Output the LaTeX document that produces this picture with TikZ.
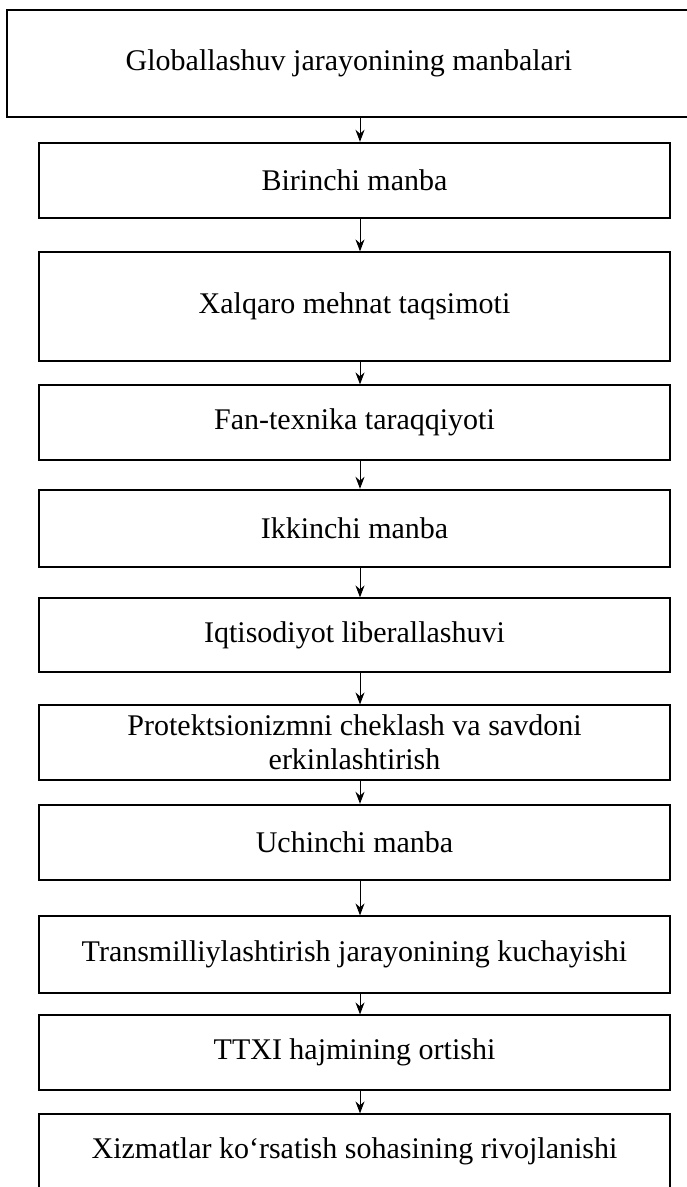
\documentclass[tikz,border=0pt]{standalone}
\usepackage{fontspec}
\setmainfont{Liberation Serif}
\usepackage{tikz}
\usetikzlibrary{arrows.meta}

\tikzset{
  box/.style={draw=black,line width=1.2pt,minimum width=631pt,inner sep=0pt,
    font=\fontsize{30}{34}\selectfont,align=center},
  srcbox/.style={box,line width=2.4pt},
  link/.style={-{Stealth[length=12pt,width=9pt]},line width=1pt}
}

\begin{document}
\begin{tikzpicture}[x=1pt,y=-1pt]
\useasboundingbox (0,0) rectangle (687,1187);
\clip (0,0) rectangle (687,1187);
\fill[white] (0,0) rectangle (687,1187);

% heading box runs off the right edge of the page
\node[box,draw=none,minimum height=107pt] (top) at (349,63.5) {Globallashuv jarayonining manbalari};
\draw[line width=1.2pt] (720,10) -- (7,10) -- (7,117) -- (720,117);

\node[srcbox,minimum height=75pt] (first) at (354.5,180.5) {Birinchi manba};
\node[box,minimum height=109pt] (labour) at (354.5,306.5) {Xalqaro mehnat taqsimoti};
\node[box,minimum height=75pt] (tech) at (354.5,422.5) {Fan-texnika taraqqiyoti};
\node[srcbox,minimum height=77pt] (second) at (354.5,528.5) {Ikkinchi manba};
\node[box,minimum height=74pt] (liberal) at (354.5,635) {Iqtisodiyot liberallashuvi};
\node[box,minimum height=75pt] (trade) at (354.5,742.5) {Protektsionizmni cheklash va savdoni\\erkinlashtirish};
\node[srcbox,minimum height=75pt] (third) at (354.5,842.5) {Uchinchi manba};
\node[box,minimum height=77pt] (transn) at (354.5,954.5) {Transmilliylashtirish jarayonining kuchayishi};
\node[box,minimum height=75pt] (ttxi) at (354.5,1052.5) {TTXI hajmining ortishi};
\node[box,minimum height=75pt] (service) at (354.5,1151.5) {Xizmatlar ko‘rsatish sohasining rivojlanishi};

% arrows down the chain
\draw[link] ([xshift=11pt]top.south) -- ([xshift=5.5pt]first.north);
\draw[link] ([xshift=5.5pt]first.south) -- ([xshift=5.5pt]labour.north);
\draw[link] ([xshift=5.5pt]labour.south) -- ([xshift=5.5pt]tech.north);
\draw[link] ([xshift=5.5pt]tech.south) -- ([xshift=5.5pt]second.north);
\draw[link] ([xshift=5.5pt]second.south) -- ([xshift=5.5pt]liberal.north);
\draw[link] ([xshift=5.5pt]liberal.south) -- ([xshift=5.5pt]trade.north);
\draw[link] ([xshift=5.5pt]trade.south) -- ([xshift=5.5pt]third.north);
\draw[link] ([xshift=5.5pt]third.south) -- ([xshift=5.5pt]transn.north);
\draw[link] ([xshift=5.5pt]transn.south) -- ([xshift=5.5pt]ttxi.north);
\draw[link] ([xshift=5.5pt]ttxi.south) -- ([xshift=5.5pt]service.north);

\end{tikzpicture}
\end{document}
